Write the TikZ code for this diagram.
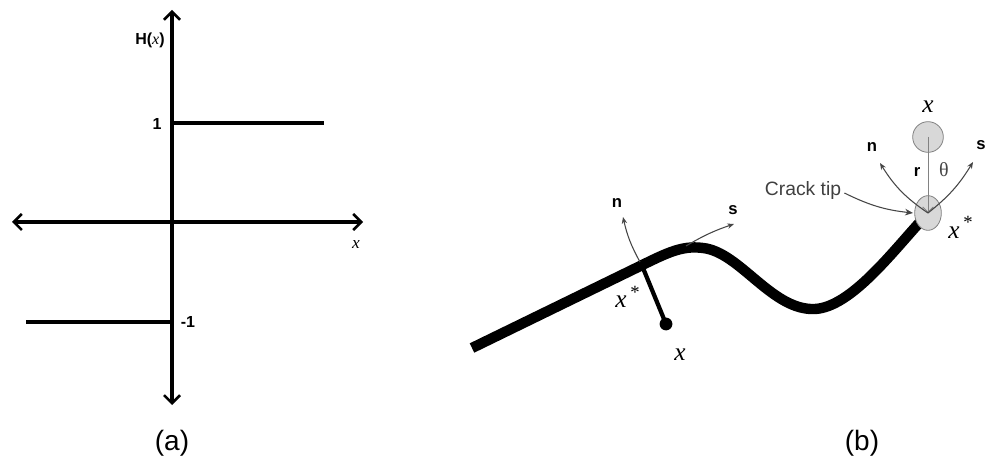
\documentclass[tikz,border=0pt]{standalone}
\usepackage{fontspec}
\setmainfont{Liberation Serif}
\setsansfont{Liberation Sans}
\usetikzlibrary{arrows.meta,shapes.geometric}
\definecolor{tipfill}{RGB}{216,216,216}
\definecolor{tipdraw}{RGB}{130,130,130}
\definecolor{vecgray}{RGB}{70,70,70}
\begin{document}
\begin{tikzpicture}[x=0.75pt,y=-0.75pt,
  barb/.tip={Straight Barb[length=6pt,width=12pt,line width=1.9pt]},
  axis/.style={line width=2.4pt,barb-barb},
  stepline/.style={line width=2.4pt},
  lab/.style={inner sep=0pt,font=\sffamily\bfseries\fontsize{12}{13}\selectfont},
  captext/.style={inner sep=0pt,font=\sffamily\fontsize{21}{22}\selectfont},
  varx/.style={inner sep=0pt,font=\itshape\fontsize{19}{20}\selectfont},
  vlab/.style={inner sep=0pt,font=\sffamily\bfseries\fontsize{12.5}{13}\selectfont},
  vec/.style={draw=vecgray,line width=0.8pt,-{Stealth[length=5pt,width=4pt]}},
  crack/.style={line width=7.8pt},
  starmark/.style={inner sep=0pt,font=\fontsize{14}{14}\selectfont},
]
\useasboundingbox (0,0) rectangle (985,470);
% ---------- (a) ----------
\coordinate (vtop) at (172,10);
\coordinate (vbot) at (172,405);
\coordinate (hl) at (12,222);
\coordinate (hr) at (363,222);
\draw[axis] (vbot) -- (vtop);
\draw[axis] (hl) -- (hr);
\coordinate (p1a) at (172,123);
\coordinate (p1b) at (324,123);
\coordinate (m1a) at (26,322);
\coordinate (m1b) at (172,322);
\draw[stepline] (p1a) -- (p1b);
\draw[stepline] (m1a) -- (m1b);
\node[lab] (hx) at (150,40) {H(\textnormal{\itshape x})};
\node[lab] (one) at (157,124) {1};
\node[lab] (mone) at (188,322) {-1};
\node[varx,font=\itshape\fontsize{13}{14}\selectfont] (xax) at (356,245) {x};
\node[captext] (capa) at (172,443) {(a)};
% ---------- (b) ----------
\coordinate (c0) at (472,348);
\coordinate (c1) at (630,271);
\coordinate (c2) at (703,248);
\coordinate (c3) at (815,309);
\coordinate (c4) at (920,222);
\draw[crack] (c0) -- (c1) .. controls (665,254) and (680,245) .. (c2)
  .. controls (740,252) and (772,311) .. (c3)
  .. controls (850,307) and (890,255) .. (c4);
% closest point and rod
\coordinate (xs) at (643,268);
\coordinate (dot) at (666,324);
\draw[line width=3.2pt] (xs) -- (dot);
\fill (dot) circle [radius=4.8pt];
\coordinate (ntip) at (623,217);
\coordinate (sbase) at (686,246);
\coordinate (stip) at (734,224);
\draw[vec] (640,262) to[bend left=8] (ntip);
\draw[vec] (sbase) to[bend left=6] (stip);
\node[vlab] (n1) at (617,203) {n};
\node[vlab] (s1) at (733,210) {s};
\node[varx] (xs1) at (621,302) {x};
\node[starmark] (st1) at (635,292) {*};
\node[varx] (x1) at (680,355) {x};
% crack tip
\node[ellipse,minimum width=20pt,minimum height=26pt,inner sep=0pt,
      fill=tipfill,draw=tipdraw,line width=0.6pt] (tip) at (928,213) {};
\node[circle,minimum size=23pt,inner sep=0pt,
      fill=tipfill,draw=tipdraw,line width=0.6pt] (pt) at (928,137) {};
\draw[draw=tipdraw,line width=0.7pt,-{Straight Barb[length=4pt,width=8pt]}] (pt.center) -- (tip.center);
\draw[vec] (tip.center) to[bend left=12] (880,163);
\draw[vec] (tip.center) to[bend right=10] (973,162);
\node[vlab] (n2) at (872,147) {n};
\node[vlab] (s2) at (981,145) {s};
\node[vlab] (r2) at (917,172) {r};
\node[inner sep=0pt,font=\fontsize{15}{16}\selectfont,text=vecgray] (th) at (944,170) {θ};
\node[varx] (x2) at (928,107) {x};
\node[varx] (xs2) at (954,233) {x};
\node[starmark] (st2) at (968,222) {*};
\node[inner sep=0pt,font=\sffamily\fontsize{14.5}{15}\selectfont,text=black!75] (ct) at (803,191) {Crack tip};
\draw[vec,-{Stealth[length=6pt,width=5pt]}] (ct.east) ++(3,2) to[bend right=10] (913,213);
\node[captext] (capb) at (862,443) {(b)};
\end{tikzpicture}
\end{document}
